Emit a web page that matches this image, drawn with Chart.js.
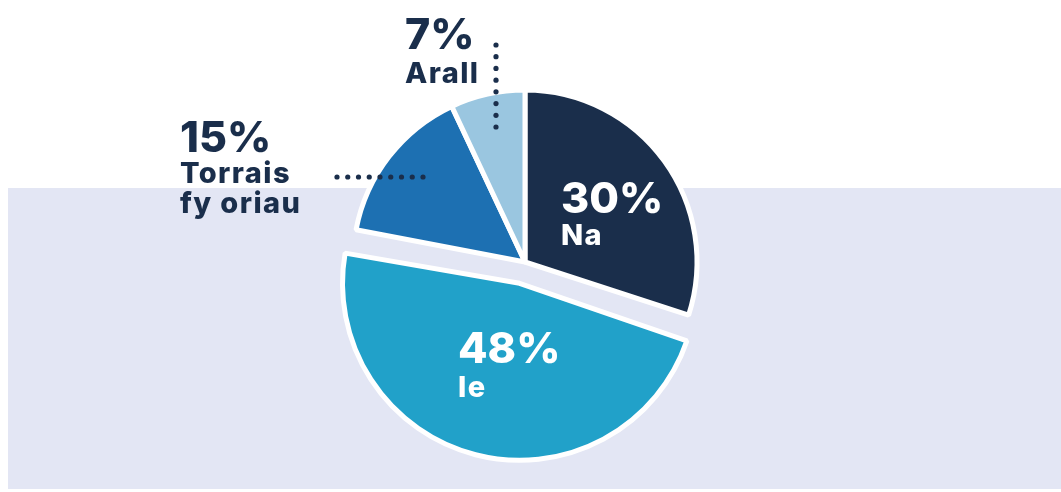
<!DOCTYPE html>
<html>
<head>
<meta charset="utf-8">
<script src="https://cdn.jsdelivr.net/npm/chart.js@4.4.1/dist/chart.umd.min.js"></script>
<style>
  html, body { margin: 0; padding: 0; background: #fff; }
  #wrap { position: relative; width: 1061px; height: 492px; overflow: hidden; }
  #band { position: absolute; left: 8px; right: 0; top: 188px; bottom: 3px; background: #e3e6f4; }
  #chart { position: absolute; left: 0; top: 0; }
</style>
</head>
<body>
<div id="wrap">
  <div id="band"></div>
  <canvas id="chart" width="1061" height="492"></canvas>
</div>
<script>
// Data
const categories = ['Na', 'Ie', ['Torrais', 'fy oriau'], 'Arall'];
const shares = [30, 48, 15, 7];
const sliceColors = ['#1a2e4b', '#21a1c9', '#1d70b2', '#9ac6e0'];
const sliceOffsets = [0, 88, 0, 0]; // chart.js v4 moves the arc by offset/4
const sliceRadiusGain = [0, 5, 0, 0];

const navy = '#1a2e4b';
const font = 'Inter, "Noto Sans", sans-serif';

// label placement relative to the pie centre (px)
const labelLayout = [
  { inside: true, dx: 36, pctDy: -49, nameDy: -17 },
  { inside: true, dx: -67, pctDy: 101, nameDy: 135 },
  { inside: false, dx: -345, pctDy: -110, nameDy: -79, lineGap: 30,
    dots: { horizontal: true, from: -188, to: -102, at: -85, count: 9 } },
  { inside: false, dx: -120, pctDy: -213, nameDy: -179, lineGap: 30,
    dots: { horizontal: false, from: -217, to: -135, at: -29, count: 8 } }
];

// chart.js grows an offset arc's radius; take that back, then add a small gain
const keepRadius = {
  id: 'keepRadius',
  afterDatasetUpdate(chart, args) {
    args.meta.data.forEach((arc, i) => {
      const off = (sliceOffsets[i] || 0) / 4;
      const circ = arc.endAngle - arc.startAngle;
      const fix = 1 - Math.sin(Math.min(Math.PI, circ));
      arc.outerRadius += sliceRadiusGain[i] - off * fix;
    });
  }
};

const sliceLabels = {
  id: 'sliceLabels',
  afterDatasetsDraw(chart) {
    const ctx = chart.ctx;
    const arcs = chart.getDatasetMeta(0).data;
    const cx = arcs[0].x;
    const cy = arcs[0].y;
    ctx.save();
    ctx.textAlign = 'left';
    ctx.textBaseline = 'alphabetic';
    arcs.forEach((arc, i) => {
      const lay = labelLayout[i];
      ctx.fillStyle = lay.inside ? '#ffffff' : navy;
      ctx.letterSpacing = '0px';
      ctx.font = '800 43px ' + font;
      ctx.fillText(shares[i] + '%', cx + lay.dx, cy + lay.pctDy);
      ctx.font = '800 29px ' + font;
      ctx.letterSpacing = '1.4px';
      const names = Array.isArray(categories[i]) ? categories[i] : [categories[i]];
      names.forEach((n, k) => {
        ctx.fillText(n, cx + lay.dx, cy + lay.nameDy + k * (lay.lineGap || 0));
      });
      if (lay.dots) {
        const d = lay.dots;
        ctx.fillStyle = navy;
        for (let k = 0; k < d.count; k++) {
          const t = d.from + (d.to - d.from) * k / (d.count - 1);
          const px = d.horizontal ? cx + t : cx + d.at;
          const py = d.horizontal ? cy + d.at : cy + t;
          ctx.beginPath();
          ctx.arc(px, py, 2.6, 0, Math.PI * 2);
          ctx.fill();
        }
      }
    });
    ctx.restore();
  }
};

new Chart(document.getElementById('chart'), {
  type: 'pie',
  data: {
    labels: categories.map(c => Array.isArray(c) ? c.join(' ') : c),
    datasets: [{
      data: shares,
      backgroundColor: sliceColors,
      borderColor: '#ffffff',
      borderWidth: 5,
      offset: sliceOffsets,
      hoverOffset: 0
    }]
  },
  options: {
    responsive: false,
    animation: false,
    radius: 172,
    layout: { padding: { left: 0, right: 11, top: 32, bottom: 0 } },
    plugins: {
      legend: { display: false },
      tooltip: { enabled: false }
    }
  },
  plugins: [keepRadius, sliceLabels]
});
</script>
</body>
</html>
